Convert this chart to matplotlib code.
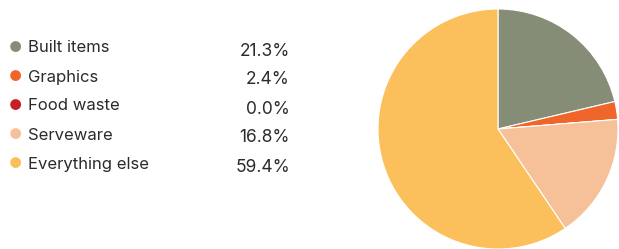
import matplotlib
matplotlib.use("Agg")
import matplotlib.pyplot as plt

plt.rcParams['font.family'] = ['Inter', 'DejaVu Sans']

categories = ['Built items', 'Graphics', 'Food waste', 'Serveware', 'Everything else']
shares = [21.3, 2.4, 0.0, 16.8, 59.4]
colors = ['#858d77', '#f0652a', '#c81f27', '#f6c199', '#fbc05b']

fig = plt.figure(figsize=(6.19, 2.49), dpi=100)

# pie on the right
ax = fig.add_axes([378 / 619, 0.0, 240 / 619, 240 / 249])
ax.pie(shares, colors=colors, startangle=90, counterclock=False,
       wedgeprops=dict(edgecolor='white', linewidth=0.8))
ax.set_xlim(-1, 1)
ax.set_ylim(-1, 1)
ax.set_aspect('equal')

# legend table on the left
ys = [48, 77, 106, 135, 164]
for cat, val, col, y in zip(categories, shares, colors, ys):
    fy = 1 - y / 249
    fig.text(15 / 619, fy, '\u25cf', color=col, fontsize=10.5, ha='center', va='center')
    fig.text(28 / 619, fy, cat, color='#2b2b2b', fontsize=12, ha='left', va='center')
    fig.text(290 / 619, 1 - (y + 3) / 249, f'{val:.1f}%', color='#2b2b2b',
             fontsize=12.5, ha='right', va='center')

fig.savefig('out.png', dpi=100)
